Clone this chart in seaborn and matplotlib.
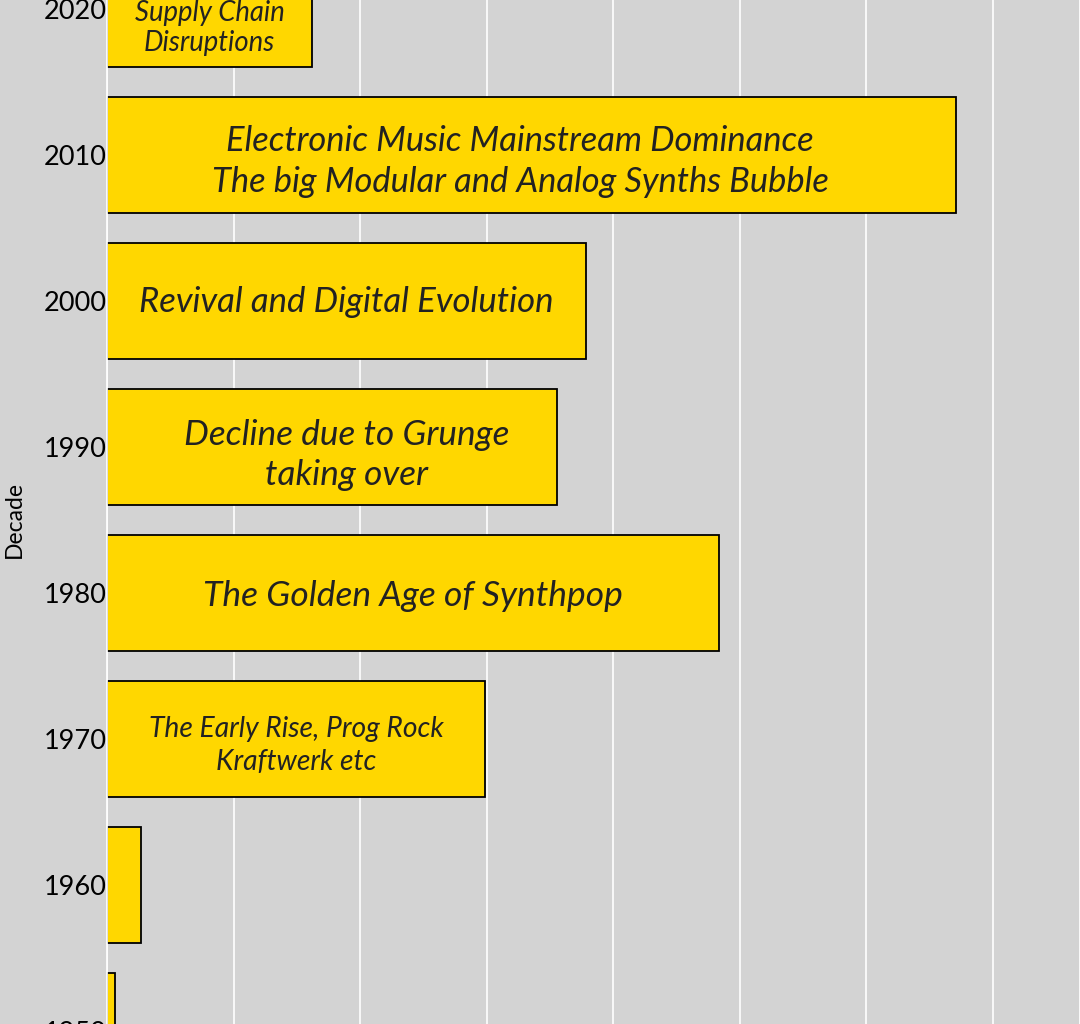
import matplotlib
matplotlib.use("Agg")
import matplotlib.pyplot as plt
import seaborn as sns
import pandas as pd

# values (one grid step = 20)
decades = ["2020", "2010", "2000", "1990", "1980", "1970", "1960", "1950"]
synths = [32.4, 134.2, 75.7, 71.1, 96.7, 59.8, 5.4, 1.3]
eras = [
    "Supply Chain\nDisruptions",
    "Electronic Music Mainstream Dominance\nThe big Modular and Analog Synths Bubble",
    "Revival and Digital Evolution",
    "Decline due to Grunge\ntaking over",
    "The Golden Age of Synthpop",
    "The Early Rise, Prog Rock\nKraftwerk etc",
    "",
    "",
]

df = pd.DataFrame({"Decade": decades, "Synths": synths, "Era": eras})

sns.set_theme(style="darkgrid", rc={
    "axes.facecolor": "#d3d3d3",
    "figure.facecolor": "#d3d3d3",
    "grid.color": "white",
    "grid.linewidth": 1.2,
})
plt.rcParams["font.family"] = ["Lato", "DejaVu Sans"]

fig = plt.figure(figsize=(10.8, 10.24), dpi=100)
# the axes run past the top and bottom of the canvas, like the cropped original
ax = fig.add_axes([107 / 1080, -80 / 1024, 973 / 1080, 1168 / 1024])

sns.barplot(data=df, x="Synths", y="Decade", order=decades, orient="h",
            color="#FFD700", saturation=1, edgecolor="black", linewidth=1.3,
            width=0.8, ax=ax)

ax.set_xlim(0, 973 / 126.57 * 20)
ax.set_xticks(range(0, 160, 20))
ax.set_xticklabels([])
ax.set_ylim(7.5, -0.5)

# label styling per bar
label_size = [19.8, 24.8, 25, 25.3, 25.5, 20.3, 20, 20]
label_ls = [1.22, 1.33, 1.3, 1.3, 1.3, 1.33, 1.3, 1.3]
label_dx = [0, -1.8, 0, 2.3, 0, 0, 0, 0]
label_dy = [0.13, 0.045, 0.01, 0.055, 0.02, 0.045, 0, 0]
for i, (val, txt) in enumerate(zip(synths, eras)):
    if not txt:
        continue
    ax.text(val / 2 + label_dx[i], i + label_dy[i], txt, ha="center", va="center",
            fontsize=label_size[i], style="italic", color="#222222",
            linespacing=label_ls[i])

ax.set_xlabel("")
ax.set_ylabel("Decade", fontsize=16.5, color="black")
ax.yaxis.set_label_coords(-0.084, 0.5)
ax.tick_params(axis="y", labelsize=19.5, pad=0.5, length=0, labelcolor="black")
ax.tick_params(axis="x", length=0)

fig.savefig("out.png", dpi=100)
